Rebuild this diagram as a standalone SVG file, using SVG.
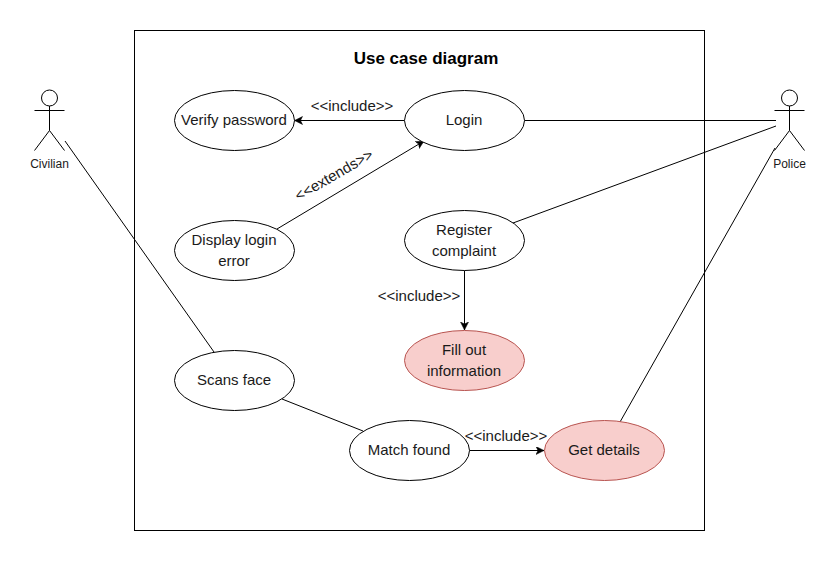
<svg xmlns="http://www.w3.org/2000/svg" width="836" height="561" viewBox="0 0 836 561">
<style>
text{font-family:"Liberation Sans",Arial,sans-serif;fill:#1a1a1a;text-anchor:middle}
.uc{fill:#fff;stroke:#000;stroke-width:1}
.red{fill:#f8cecc;stroke:#b85450;stroke-width:1}
.t{font-size:15px}
.s{font-size:12px}
.l{font-size:15px}
.c{fill:none;stroke:#000;stroke-width:1}
.a{fill:none;stroke:#000;stroke-width:1;marker-end:url(#arr)}
.act{fill:none;stroke:#000;stroke-width:1}
</style>
<defs>
<marker id="arr" markerUnits="userSpaceOnUse" markerWidth="9" markerHeight="9" refX="8" refY="4" orient="auto">
<path d="M0 0L8 4L0 8L2 4Z" fill="#000" stroke="#000" stroke-width="0.5"/>
</marker>
</defs>
<rect width="836" height="561" fill="#fff"/>
<g id="system"><rect x="134.500" y="30.500" width="570" height="500" fill="#fff" stroke="#000"/>
<text x="426" y="64" style="font-size:17px;font-weight:bold;fill:#000">Use case diagram</text></g>
<g id="connectors">
<path class="a" d="M404.500 120.500H294.500"/>
<path class="a" d="M277 229L424 141"/>
<path class="a" d="M464.500 270.500V330"/>
<path class="a" d="M469.500 450.500H544"/>
<path class="c" d="M524.500 120.500H776"/>
<path class="c" d="M513 223L776 126"/>
<path class="c" d="M620 422L775 148"/>
<path class="c" d="M214 352L65 141"/>
<path class="c" d="M282 399L363 431"/>
</g>
<g id="labels">
<text class="l" x="352" y="111">&lt;&lt;include&gt;&gt;</text>
<text class="l" x="334.500" y="176" transform="rotate(-30 334.500 176)" dominant-baseline="middle">&lt;&lt;extends&gt;&gt;</text>
<text class="l" x="419" y="301">&lt;&lt;include&gt;&gt;</text>
<text class="l" x="506" y="441">&lt;&lt;include&gt;&gt;</text>
</g>
<g id="verify"><ellipse class="uc" cx="234.500" cy="120.500" rx="60" ry="30"/><text class="t" x="234" y="125">Verify password</text></g>
<g id="login"><ellipse class="uc" cx="464.500" cy="120.500" rx="60" ry="30"/><text class="t" x="464" y="125">Login</text></g>
<g id="error"><ellipse class="uc" cx="234.500" cy="250.500" rx="60" ry="30"/><text class="t" x="234" y="245">Display login</text><text class="t" x="234" y="266">error</text></g>
<g id="register"><ellipse class="uc" cx="464.500" cy="240.500" rx="60" ry="30"/><text class="t" x="464" y="235">Register</text><text class="t" x="464" y="256">complaint</text></g>
<g id="fill"><ellipse class="red" cx="464.500" cy="360.500" rx="60" ry="30"/><text class="t" x="464" y="355">Fill out</text><text class="t" x="464" y="376">information</text></g>
<g id="scans"><ellipse class="uc" cx="234.500" cy="380.500" rx="60" ry="30"/><text class="t" x="234" y="385">Scans face</text></g>
<g id="match"><ellipse class="uc" cx="409.500" cy="450.500" rx="60" ry="30"/><text class="t" x="409" y="455">Match found</text></g>
<g id="details"><ellipse class="red" cx="604.500" cy="450.500" rx="60" ry="30"/><text class="t" x="604" y="455">Get details</text></g>
<g id="civilian"><circle class="act" cx="49.500" cy="98" r="8"/><path class="act" d="M49.500 106V130.500M34.500 110.500H64.500M49.500 130.500L34.500 150.500M49.500 130.500L64.500 150.500"/><text class="s" x="49.500" y="168">Civilian</text></g>
<g id="police"><circle class="act" cx="789.500" cy="98" r="8"/><path class="act" d="M789.500 106V130.500M774.500 110.500H804.500M789.500 130.500L774.500 150.500M789.500 130.500L804.500 150.500"/><text class="s" x="789.500" y="168">Police</text></g>
</svg>
